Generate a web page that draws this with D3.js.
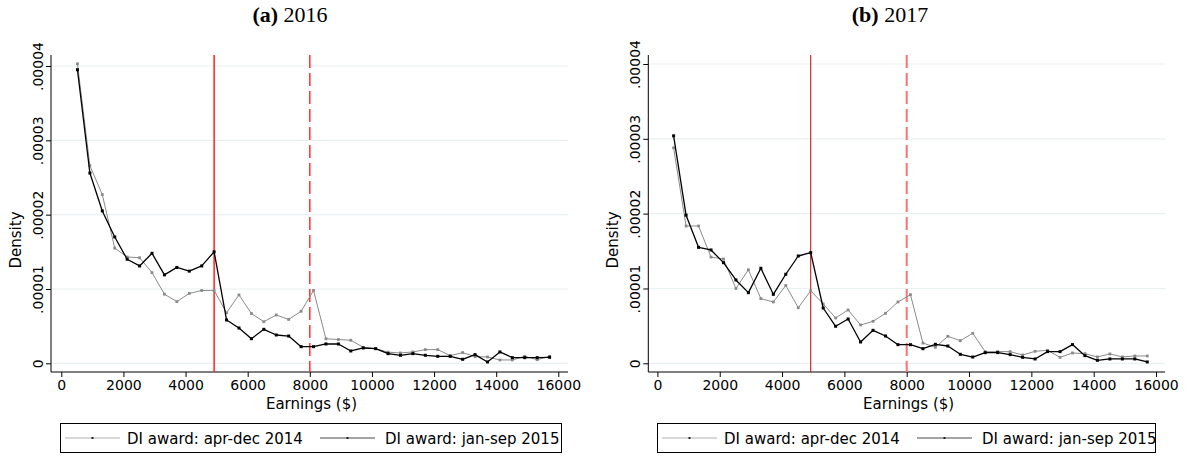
<!DOCTYPE html>
<html><head><meta charset="utf-8">
<script src="https://cdn.jsdelivr.net/npm/d3@7"></script>
<style>body{margin:0;background:#fff;} svg{display:block;}</style>
</head><body>
<svg id="chart" width="1191" height="465"></svg>
<script>
// ---- data ----
const earnings = [520, 920, 1320, 1720, 2120, 2520, 2920, 3320, 3720, 4120, 4520, 4920,
  5320, 5720, 6120, 6520, 6920, 7320, 7720, 8120, 8520, 8920, 9320, 9720, 10120, 10520,
  10920, 11320, 11720, 12120, 12520, 12920, 13320, 13720, 14120, 14520, 14920, 15320, 15720];
const panelTitlesBold = ["(a)", "(b)"];
const panelTitlesYear = ["2016", "2017"];
const seriesNames = ["DI award: apr-dec 2014", "DI award: jan-sep 2015"];
const xTickValues = [0, 2000, 4000, 6000, 8000, 10000, 12000, 14000, 16000];
const yTickValues = [0, 1e-5, 2e-5, 3e-5, 4e-5];
const yTickLabels = ["0", ".00001", ".00002", ".00003", ".00004"];
const refLines = [4920, 8000];
// 2016 panel
const a_2014 = [4.03e-5, 2.66e-5, 2.27e-5, 1.55e-5, 1.43e-5, 1.42e-5, 1.22e-5, 0.93e-5, 0.83e-5, 0.94e-5, 0.98e-5, 0.98e-5,
  0.68e-5, 0.92e-5, 0.67e-5, 0.56e-5, 0.65e-5, 0.59e-5, 0.70e-5, 0.98e-5, 0.33e-5, 0.32e-5, 0.31e-5, 0.215e-5, 0.197e-5, 0.15e-5,
  0.139e-5, 0.153e-5, 0.184e-5, 0.184e-5, 0.103e-5, 0.144e-5, 0.09e-5, 0.085e-5, 0.045e-5, 0.045e-5, 0.094e-5, 0.049e-5, 0.094e-5];
const a_2015 = [3.95e-5, 2.56e-5, 2.05e-5, 1.70e-5, 1.40e-5, 1.31e-5, 1.48e-5, 1.19e-5, 1.29e-5, 1.24e-5, 1.31e-5, 1.50e-5,
  0.583e-5, 0.475e-5, 0.331e-5, 0.457e-5, 0.381e-5, 0.367e-5, 0.224e-5, 0.224e-5, 0.26e-5, 0.26e-5, 0.166e-5, 0.206e-5, 0.197e-5, 0.13e-5,
  0.108e-5, 0.13e-5, 0.108e-5, 0.094e-5, 0.094e-5, 0.054e-5, 0.117e-5, 0.018e-5, 0.153e-5, 0.076e-5, 0.076e-5, 0.076e-5, 0.081e-5];
// 2017 panel
const b_2014 = [2.88e-5, 1.835e-5, 1.835e-5, 1.42e-5, 1.394e-5, 1.0e-5, 1.25e-5, 0.864e-5, 0.82e-5, 1.04e-5, 0.743e-5, 0.97e-5,
  0.793e-5, 0.606e-5, 0.713e-5, 0.512e-5, 0.561e-5, 0.668e-5, 0.82e-5, 0.917e-5, 0.271e-5, 0.214e-5, 0.361e-5, 0.302e-5, 0.401e-5, 0.155e-5,
  0.156e-5, 0.156e-5, 0.111e-5, 0.16e-5, 0.174e-5, 0.08e-5, 0.138e-5, 0.129e-5, 0.085e-5, 0.125e-5, 0.085e-5, 0.098e-5, 0.098e-5];
const b_2015 = [3.04e-5, 1.98e-5, 1.55e-5, 1.515e-5, 1.345e-5, 1.114e-5, 0.944e-5, 1.27e-5, 0.922e-5, 1.19e-5, 1.434e-5, 1.479e-5,
  0.739e-5, 0.495e-5, 0.592e-5, 0.285e-5, 0.441e-5, 0.365e-5, 0.249e-5, 0.249e-5, 0.195e-5, 0.254e-5, 0.231e-5, 0.12e-5, 0.084e-5, 0.142e-5,
  0.143e-5, 0.116e-5, 0.08e-5, 0.058e-5, 0.156e-5, 0.156e-5, 0.25e-5, 0.102e-5, 0.04e-5, 0.058e-5, 0.058e-5, 0.058e-5, 0.018e-5];

// ---- layout ----
const panels = [
  {g2014: a_2014, g2015: a_2015, left: 51, right: 568, x0: 61.3, x16: 558.3, y0: 363.3, y4: 66, top: 55, axisY: 372,
   titleX: 290, densX: 21, legL: 60, legR: 561,
   solid: {color: "#ff2020", width: 1.5}, dashed: {color: "#ff3030", width: 1.5, dash: "13,5"}},
  {g2014: b_2014, g2015: b_2015, left: 648.3, right: 1165, x0: 657.4, x16: 1156, y0: 363.3, y4: 64, top: 55, axisY: 372,
   titleX: 890, densX: 618, legL: 657, legR: 1155,
   solid: {color: "#cc0000", width: 1}, dashed: {color: "#ff7070", width: 2, dash: "13,5"}}
];

const svg = d3.select("#chart");
const tickFont = "DejaVu Sans, sans-serif";

panels.forEach((p, i) => {
  const x = d3.scaleLinear().domain([0, 16000]).range([p.x0, p.x16]);
  const y = d3.scaleLinear().domain([0, 4e-5]).range([p.y0, p.y4]);
  const g = svg.append("g");

  // title
  const t = g.append("text").attr("x", p.titleX).attr("y", 22).attr("text-anchor", "middle")
    .style("font-family", "Liberation Serif, Times New Roman, serif").style("font-size", "22px");
  t.append("tspan").style("font-weight", "bold").text(panelTitlesBold[i]);
  t.append("tspan").text(" " + panelTitlesYear[i]);

  // gridlines
  g.append("g").selectAll("line").data(yTickValues).join("line")
    .attr("x1", p.left + 1).attr("x2", p.right)
    .attr("y1", d => y(d)).attr("y2", d => y(d))
    .attr("stroke", "#e9f0f1").attr("stroke-width", 1.2);

  // axes
  const xAxis = d3.axisBottom(x).tickValues(xTickValues).tickSize(5).tickPadding(3).tickFormat(d3.format("d"));
  const xg = g.append("g").attr("transform", `translate(0,${p.axisY})`).call(xAxis);
  xg.select(".domain").remove();
  xg.append("line").attr("x1", p.left).attr("x2", p.right).attr("stroke", "#000").attr("stroke-width", 1);
  xg.selectAll("text").style("font-family", tickFont).style("font-size", "14px").attr("fill", "#000");

  const yAxis = d3.axisLeft(y).tickValues(yTickValues).tickSize(5).tickPadding(3)
    .tickFormat((d, k) => yTickLabels[k]);
  const yg = g.append("g").attr("transform", `translate(${p.left},0)`).call(yAxis);
  yg.select(".domain").remove();
  yg.append("line").attr("y1", p.top).attr("y2", p.axisY).attr("stroke", "#000").attr("stroke-width", 1);
  yg.selectAll(".tick text")
    .attr("x", null).attr("dy", null)
    .attr("transform", "translate(-8,0) rotate(-90)")
    .attr("text-anchor", "middle")
    .style("font-family", tickFont).style("font-size", "14px").attr("fill", "#000");

  // axis titles
  g.append("text").attr("x", (p.left + p.right) / 2 + 2).attr("y", 409).attr("text-anchor", "middle")
    .style("font-family", tickFont).style("font-size", "15px").text("Earnings ($)");
  g.append("text").attr("transform", `translate(${p.densX},240) rotate(-90)`).attr("text-anchor", "middle")
    .style("font-family", tickFont).style("font-size", "15px").text("Density");

  // reference lines
  g.append("line").attr("x1", x(refLines[0])).attr("x2", x(refLines[0])).attr("y1", p.top).attr("y2", p.axisY)
    .attr("stroke", p.solid.color).attr("stroke-width", p.solid.width);
  g.append("line").attr("x1", x(refLines[1])).attr("x2", x(refLines[1])).attr("y1", p.top).attr("y2", p.axisY)
    .attr("stroke", p.dashed.color).attr("stroke-width", p.dashed.width).attr("stroke-dasharray", p.dashed.dash);

  // series
  const series = [
    {vals: p.g2014, color: "#8a8a8a", width: 1, r: 1.4},
    {vals: p.g2015, color: "#000", width: 1.3, r: 1.5}
  ];
  const line = d3.line().x(d => x(d[0])).y(d => y(d[1]));
  series.forEach(s => {
    const pts = earnings.map((e, k) => [e, s.vals[k]]);
    g.append("path").datum(pts).attr("d", line).attr("fill", "none")
      .attr("stroke", s.color).attr("stroke-width", s.width).attr("stroke-linejoin", "round");
    g.append("g").selectAll("rect").data(pts).join("rect")
      .attr("x", d => x(d[0]) - s.r).attr("y", d => y(d[1]) - s.r)
      .attr("width", s.r * 2).attr("height", s.r * 2).attr("fill", s.color);
  });

  // legend
  const lg = g.append("g");
  lg.append("rect").attr("x", p.legL + 0.5).attr("y", 423.5).attr("width", p.legR - p.legL).attr("height", 29)
    .attr("fill", "#fff").attr("stroke", "#000").attr("stroke-width", 1);
  const items = [
    {name: seriesNames[0], color: "#b0b0b0", x1: p.legL + 5, x2: p.legL + 60, tx: p.legL + 67},
    {name: seriesNames[1], color: "#4a4a4a", x1: p.legL + 260, x2: p.legL + 315, tx: p.legL + 325}
  ];
  items.forEach(it => {
    lg.append("line").attr("x1", it.x1).attr("x2", it.x2).attr("y1", 438).attr("y2", 438)
      .attr("stroke", it.color).attr("stroke-width", 1.2);
    lg.append("rect").attr("x", (it.x1 + it.x2) / 2 - 1).attr("y", 437).attr("width", 2).attr("height", 2).attr("fill", "#222");
    lg.append("text").attr("x", it.tx).attr("y", 443.5).style("font-family", tickFont).style("font-size", "15px")
      .text(it.name);
  });
});
</script>
</body></html>
